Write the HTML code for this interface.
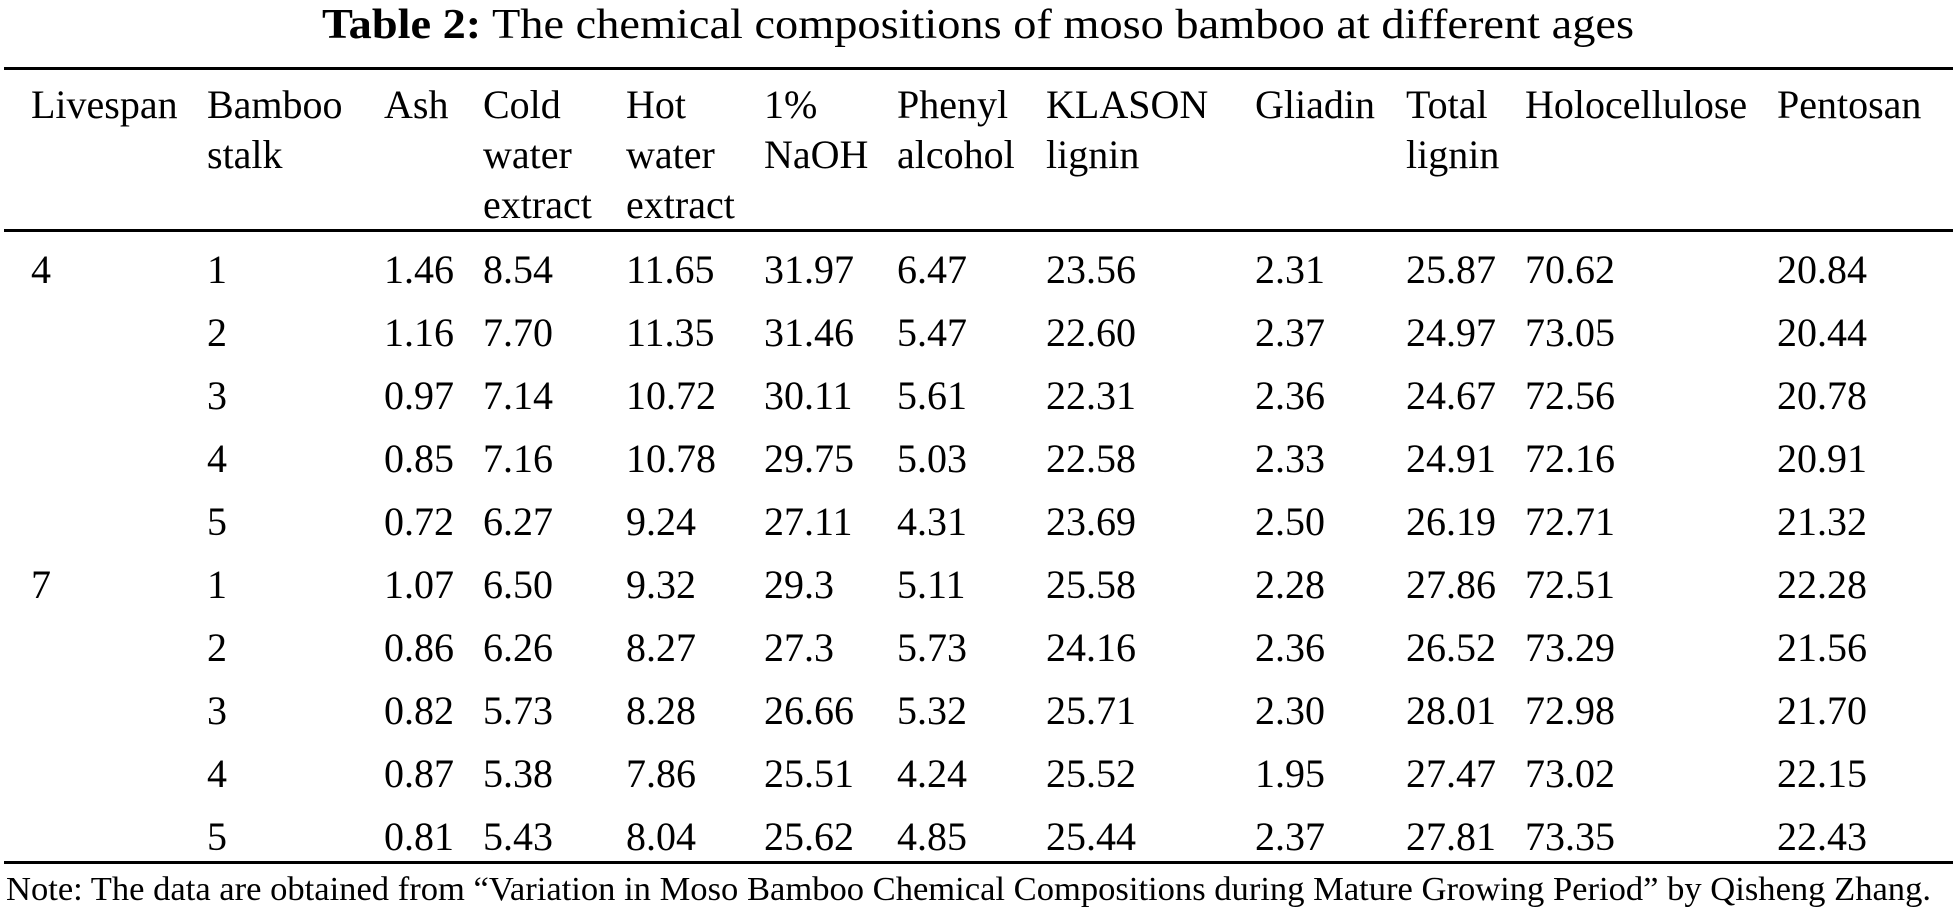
<!DOCTYPE html>
<html><head><meta charset="utf-8"><style>
html,body{margin:0;padding:0;background:#fff;}
svg{display:block;}
text{font-family:"Liberation Serif",serif;fill:#000;}
</style></head><body>
<svg id="tbl" width="1957" height="910">
<text x="978" y="38" font-size="42" text-anchor="middle" textLength="1312" lengthAdjust="spacingAndGlyphs"><tspan font-weight="bold">Table 2:</tspan> The chemical compositions of moso bamboo at different ages</text>
<rect x="4" y="67" width="1949" height="3" fill="#000"/>
<rect x="4" y="229" width="1949" height="3" fill="#000"/>
<rect x="4" y="861" width="1949" height="3" fill="#000"/>
<text x="6" y="900" font-size="34" textLength="1925" lengthAdjust="spacingAndGlyphs">Note: The data are obtained from “Variation in Moso Bamboo Chemical Compositions during Mature Growing Period” by Qisheng Zhang.</text>
</svg>
<script>
const headers=[["Livespan"],["Bamboo","stalk"],["Ash"],["Cold","water","extract"],["Hot","water","extract"],["1%","NaOH"],["Phenyl","alcohol"],["KLASON","lignin"],["Gliadin"],["Total","lignin"],["Holocellulose"],["Pentosan"]];
const livespan=["4","","","","","7","","","",""];
const stalk=["1","2","3","4","5","1","2","3","4","5"];
const ash=["1.46","1.16","0.97","0.85","0.72","1.07","0.86","0.82","0.87","0.81"];
const cold=["8.54","7.70","7.14","7.16","6.27","6.50","6.26","5.73","5.38","5.43"];
const hot=["11.65","11.35","10.72","10.78","9.24","9.32","8.27","8.28","7.86","8.04"];
const naoh=["31.97","31.46","30.11","29.75","27.11","29.3","27.3","26.66","25.51","25.62"];
const phenyl=["6.47","5.47","5.61","5.03","4.31","5.11","5.73","5.32","4.24","4.85"];
const klason=["23.56","22.60","22.31","22.58","23.69","25.58","24.16","25.71","25.52","25.44"];
const gliadin=["2.31","2.37","2.36","2.33","2.50","2.28","2.36","2.30","1.95","2.37"];
const total=["25.87","24.97","24.67","24.91","26.19","27.86","26.52","28.01","27.47","27.81"];
const holo=["70.62","73.05","72.56","72.16","72.71","72.51","73.29","72.98","73.02","73.35"];
const pento=["20.84","20.44","20.78","20.91","21.32","22.28","21.56","21.70","22.15","22.43"];
const cols=[livespan,stalk,ash,cold,hot,naoh,phenyl,klason,gliadin,total,holo,pento];
const colX=[31,207,384,483,626,764,897,1046,1255,1406,1525,1777];
const NS="http://www.w3.org/2000/svg";
const svg=document.getElementById('tbl');
headers.forEach((h,c)=>{
  h.forEach((w,l)=>{
    const t=document.createElementNS(NS,'text');
    t.setAttribute('x',colX[c]);t.setAttribute('y',118+50*l);t.setAttribute('font-size','40');
    
    
    t.textContent=w;svg.appendChild(t);
  });
});
cols.forEach((col,c)=>{
  col.forEach((v,r)=>{
    if(!v)return;
    const t=document.createElementNS(NS,'text');
    t.setAttribute('x',colX[c]);t.setAttribute('y',283+63*r);t.setAttribute('font-size','40');
    
    
    t.textContent=v;svg.appendChild(t);
  });
});
</script>
</body></html>
